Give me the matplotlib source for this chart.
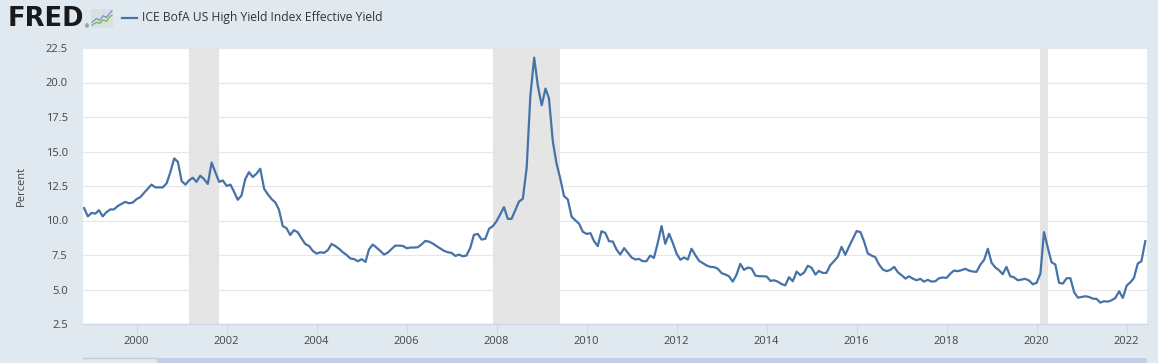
import matplotlib
matplotlib.use("Agg")
import matplotlib.pyplot as plt
import pandas as pd
from matplotlib.patches import Rectangle
from matplotlib.lines import Line2D

# ---------------- data ----------------
series_name = "ICE BofA US High Yield Index Effective Yield"
first_month = "1998-11-01"
yield_pct = [
    # 1998 (Nov-Dec)
    10.9, 10.3,
    # 1999
    10.55, 10.5, 10.75, 10.3, 10.6, 10.8, 10.8, 11.05, 11.2, 11.35, 11.25, 11.3,
    # 2000
    11.55, 11.7, 12.0, 12.3, 12.6, 12.4, 12.4, 12.4, 12.7, 13.5, 14.5, 14.25,
    # 2001
    12.85, 12.6, 12.9, 13.1, 12.8, 13.25, 13.0, 12.65, 14.2, 13.5, 12.8, 12.9,
    # 2002
    12.5, 12.6, 12.1, 11.5, 11.8, 13.0, 13.5, 13.15, 13.4, 13.75, 12.3, 11.9,
    # 2003
    11.55, 11.3, 10.8, 9.6, 9.45, 8.95, 9.3, 9.15, 8.7, 8.3, 8.15, 7.8,
    # 2004
    7.6, 7.7, 7.65, 7.85, 8.3, 8.15, 7.95, 7.7, 7.5, 7.25, 7.2, 7.05,
    # 2005
    7.2, 7.0, 7.9, 8.26, 8.04, 7.8, 7.53, 7.67, 7.94, 8.18, 8.18, 8.16,
    # 2006
    7.99, 8.04, 8.04, 8.06, 8.26, 8.52, 8.47, 8.33, 8.14, 7.97, 7.8, 7.7,
    # 2007
    7.65, 7.43, 7.53, 7.41, 7.46, 8.01, 8.96, 9.03, 8.62, 8.67, 9.4, 9.59,
    # 2008
    9.95, 10.48, 10.97, 10.12, 10.12, 10.75, 11.38, 11.57, 13.83, 19.03, 21.8, 19.76,
    # 2009
    18.35, 19.56, 18.84, 15.76, 14.14, 13.03, 11.77, 11.53, 10.27, 10.02, 9.76, 9.18,
    # 2010
    9.03, 9.08, 8.52, 8.14, 9.22, 9.1, 8.5, 8.47, 7.89, 7.53, 8.0, 7.66,
    # 2011
    7.32, 7.17, 7.22, 7.05, 7.05, 7.46, 7.29, 8.38, 9.6, 8.31, 9.04, 8.38,
    # 2012
    7.6, 7.15, 7.32, 7.17, 7.95, 7.49, 7.08, 6.91, 6.74, 6.64, 6.62, 6.5,
    # 2013
    6.18, 6.08, 5.96, 5.57, 6.06, 6.86, 6.42, 6.59, 6.52, 6.01, 5.96, 5.96,
    # 2014
    5.94, 5.62, 5.67, 5.57, 5.4, 5.3, 5.89, 5.6, 6.3, 6.04, 6.23, 6.72,
    # 2015
    6.57, 6.08, 6.35, 6.2, 6.2, 6.76, 7.05, 7.37, 8.09, 7.51, 8.12, 8.67,
    # 2016
    9.23, 9.16, 8.5, 7.61, 7.46, 7.34, 6.81, 6.45, 6.33, 6.42, 6.64, 6.25,
    # 2017
    6.03, 5.79, 5.96, 5.79, 5.67, 5.77, 5.57, 5.7, 5.57, 5.6, 5.82, 5.87,
    # 2018
    5.84, 6.16, 6.37, 6.33, 6.4, 6.5, 6.37, 6.3, 6.28, 6.79, 7.15, 7.95,
    # 2019
    6.93, 6.59, 6.4, 6.11, 6.64, 5.96, 5.89, 5.67, 5.72, 5.77, 5.65, 5.38,
    # 2020
    5.48, 6.16, 9.16, 8.02, 6.98, 6.81, 5.48, 5.43, 5.82, 5.82, 4.8, 4.41,
    # 2021
    4.46, 4.51, 4.46, 4.34, 4.32, 4.05, 4.15, 4.12, 4.22, 4.39, 4.87, 4.39,
    # 2022 (Jan-Jun)
    5.28, 5.53, 5.84, 6.88, 7.05, 8.5,
]
recession_starts = ["2001-03-01", "2007-12-01", "2020-02-01"]
recession_ends = ["2001-11-01", "2009-06-01", "2020-04-01"]
tick_years = [2000, 2002, 2004, 2006, 2008, 2010, 2012, 2014, 2016, 2018, 2020, 2022]
y_ticks = [2.5, 5.0, 7.5, 10.0, 12.5, 15.0, 17.5, 20.0, 22.5]

dates = pd.date_range(first_month, periods=len(yield_pct), freq="MS")

# ---------------- style ----------------
BG = "#e1e9f0"
LINE = "#4572a7"
TXT = "#444444"
AXIS = "#ccd6eb"
FONT = ["Open Sans", "DejaVu Sans"]
plt.rcParams["font.family"] = FONT

W, H = 1158, 363
fig = plt.figure(figsize=(W / 100, H / 100), dpi=100, facecolor=BG)

left, right, top, bottom = 83, 1147, 48, 324
ax = fig.add_axes([left / W, 1 - bottom / H, (right - left) / W, (bottom - top) / H])
ax.set_facecolor("white")

for s, e in zip(recession_starts, recession_ends):
    ax.axvspan(pd.Timestamp(s), pd.Timestamp(e), color="#e5e5e5", lw=0, zorder=1)

ax.plot(dates, yield_pct, color=LINE, lw=1.6, zorder=3, solid_joinstyle="round")

ax.set_ylim(2.5, 22.5)
ax.set_xlim(dates[0] - pd.Timedelta(days=9), dates[-1] + pd.Timedelta(days=14))
ax.set_yticks(y_ticks)
ax.set_yticklabels([f"{v:.1f}" for v in y_ticks])
ax.set_xticks([pd.Timestamp(f"{y}-01-01") for y in tick_years])
ax.set_xticklabels([str(y) for y in tick_years])

ax.grid(axis="y", color="#e6e6e6", lw=0.8, zorder=0)
ax.set_axisbelow(True)
for sp in ["top", "right", "left"]:
    ax.spines[sp].set_visible(False)
ax.spines["bottom"].set_color(AXIS)
ax.spines["bottom"].set_linewidth(1.0)
ax.spines["bottom"].set_zorder(4)

ax.tick_params(axis="y", length=0, pad=11, labelsize=8, labelcolor=TXT)
ax.tick_params(axis="x", length=7.2, width=0.8, color=AXIS, pad=1.5,
               labelsize=8, labelcolor=TXT)

fig.text(21 / W, 1 - 186 / H, "Percent", rotation=90, ha="center", va="center",
         fontsize=8, color=TXT)

# ---------------- header (FRED logo + legend) ----------------
fig.text(8 / W, 1 - 18.5 / H, "FRED", fontsize=18.5, fontweight="bold",
         family="DejaVu Sans", color="#1a1a1a", ha="left", va="center")
fig.text(85 / W, 1 - 26.5 / H, "®", fontsize=3.5, color="#1a1a1a",
         ha="left", va="center")
# small chart icon
icon = fig.add_axes([91 / W, 1 - 28 / H, 22 / W, 19 / H])
icon.set_facecolor("#d9dfe4")
icon.set_xlim(0, 10)
icon.set_ylim(0, 10)
icon.plot([0.5, 2.5, 4, 5.5, 7, 8.5, 9.5], [3.0, 5.0, 4.0, 6.5, 5.5, 7.8, 9.0], color="#6f93c6", lw=0.9)
icon.plot([0.5, 2.5, 4, 5.5, 7, 8.5, 9.5], [1.5, 3.0, 2.4, 4.3, 3.5, 5.8, 6.8], color="#7ab648", lw=0.9)
icon.set_xticks([])
icon.set_yticks([])
for sp in icon.spines.values():
    sp.set_visible(False)

fig.add_artist(Line2D([122 / W, 137 / W], [1 - 17.5 / H, 1 - 17.5 / H],
                      color=LINE, lw=1.6, transform=fig.transFigure))
fig.text(142 / W, 1 - 18 / H, series_name, fontsize=8.7, color="#333333",
         ha="left", va="center")

# ---------------- navigator strip at bottom ----------------
fig.add_artist(Line2D([83 / W, 157 / W], [1 - 358 / H, 1 - 358 / H],
                      color="#cccccc", lw=1, transform=fig.transFigure))
fig.add_artist(Rectangle((157 / W, 0), (1147 - 157) / W, 5 / H,
                         transform=fig.transFigure, color="#c2cfe6", lw=0))

fig.savefig("out.png", dpi=100, facecolor=BG)
